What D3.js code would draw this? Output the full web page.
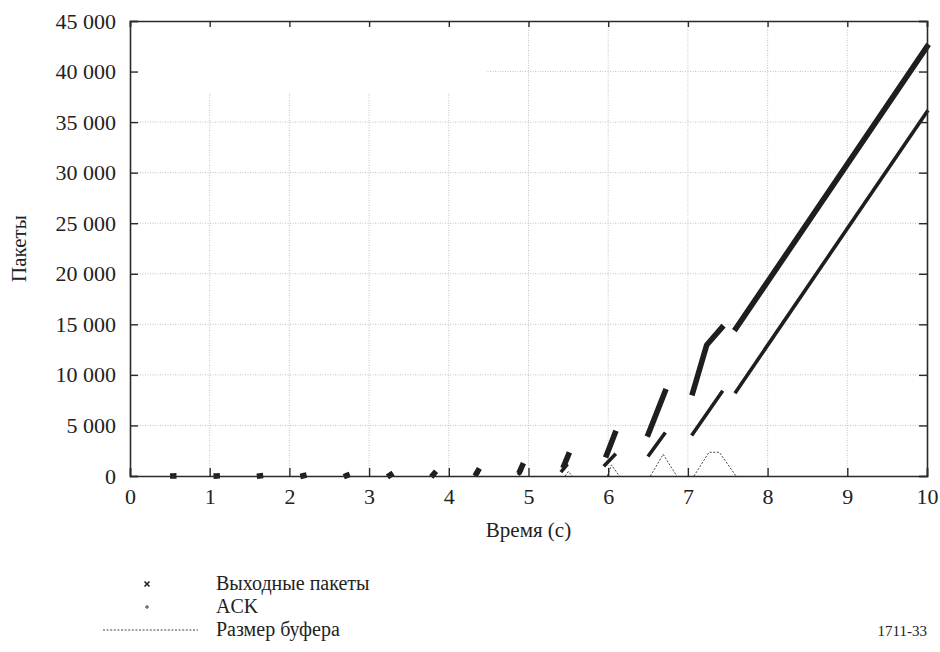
<!DOCTYPE html>
<html>
<head>
<meta charset="utf-8">
<script src="https://cdn.jsdelivr.net/npm/d3@7/dist/d3.min.js"></script>
<style>
  html, body { margin: 0; padding: 0; background: #fff; }
  svg { display: block; }
  svg text { font-family: "Liberation Serif", "Tinos", "Times New Roman", "DejaVu Serif", serif !important; fill: #222; }
</style>
</head>
<body>
<svg id="chart" width="940" height="652"></svg>
<script>
// Time axis (s) and packet axis
const xTicks = [0, 1, 2, 3, 4, 5, 6, 7, 8, 9, 10];
const yTicks = [0, 5000, 10000, 15000, 20000, 25000, 30000, 35000, 40000, 45000];

// Sent packets: each run is one burst of the sender, [time, cumulative packet number]
const outputRuns = [
  [[0.538, 2], [0.548, 4]],
  [[1.083, 4], [1.093, 8]],
  [[1.626, 8], [1.636, 16]],
  [[2.171, 16], [2.181, 32]],
  [[2.715, 32], [2.725, 64]],
  [[3.259, 64], [3.271, 128]],
  [[3.803, 128], [3.817, 256]],
  [[4.347, 256], [4.366, 512]],
  [[4.893, 512], [4.922, 1024]],
  [[5.445, 1030], [5.50, 2077]],
  [[5.98, 2077], [6.085, 4220]],
  [[6.503, 4154], [6.713, 8338]],
  [[7.06, 8240], [7.236, 12956], [7.424, 14670]],
  [[7.603, 14600], [10, 42460]]
];

// Acknowledgements received, same layout
const ackRuns = [
  [[0.536, 1], [0.544, 2]],
  [[1.081, 2], [1.089, 4]],
  [[1.624, 4], [1.632, 8]],
  [[2.169, 8], [2.177, 16]],
  [[2.713, 16], [2.721, 32]],
  [[3.257, 32], [3.265, 64]],
  [[3.801, 64], [3.811, 128]],
  [[4.344, 128], [4.358, 256]],
  [[4.885, 256], [4.905, 512]],
  [[5.42, 512], [5.475, 1030]],
  [[5.96, 1088], [6.08, 2077]],
  [[6.512, 2077], [6.704, 4154]],
  [[7.06, 4154], [7.424, 8278]],
  [[7.603, 8338], [10, 36030]]
];

// Router queue occupancy, [time, packets]
const bufferRuns = [
  [[5.46, 0], [5.50, 450], [5.55, 0]],
  [[5.99, 0], [6.04, 1100], [6.14, 0]],
  [[6.53, 0], [6.69, 2150], [6.86, 0]],
  [[7.076, 0], [7.265, 2350], [7.394, 2350], [7.603, 0]]
];

const legendLabels = ["Выходные пакеты", "ACK", "Размер буфера"];

const svg = d3.select("#chart");
const margin = { left: 130, right: 13, top: 21, bottom: 176 };
const W = 940, H = 652;
const x = d3.scaleLinear().domain([0, 10]).range([margin.left, W - margin.right]);
const y = d3.scaleLinear().domain([0, 45000]).range([H - margin.bottom, margin.top]);

const fmt = d3.formatLocale({ decimal: ".", thousands: "\u00a0", grouping: [3], currency: ["", ""] }).format(",");

// grid
const grid = svg.append("g");
grid.selectAll("line.gx").data(xTicks.slice(1, -1)).join("line")
  .attr("x1", d => x(d)).attr("x2", d => x(d))
  .attr("y1", y(0)).attr("y2", y(45000))
  .attr("stroke", "#b4b4b4").attr("stroke-width", 0.8).attr("stroke-dasharray", "1,1.5");
grid.selectAll("line.gy").data(yTicks.slice(1, -1)).join("line")
  .attr("x1", x(0)).attr("x2", x(10))
  .attr("y1", d => y(d)).attr("y2", d => y(d))
  .attr("stroke", "#b4b4b4").attr("stroke-width", 0.8).attr("stroke-dasharray", "1,1.5");

// blank panel over the upper-left grid
svg.append("rect")
  .attr("x", x(0) + 2).attr("y", y(45000) + 2)
  .attr("width", 354).attr("height", 70)
  .attr("fill", "#fff");

// data
const line = d3.line().x(d => x(d[0])).y(d => y(d[1]));

svg.append("g").selectAll("path").data(bufferRuns).join("path")
  .attr("d", line).attr("fill", "none")
  .attr("stroke", "#444").attr("stroke-width", 1)
  .attr("stroke-dasharray", "2,1.6");

svg.append("g").selectAll("path").data(ackRuns).join("path")
  .attr("d", line).attr("fill", "none")
  .attr("stroke", "#1e1e1e").attr("stroke-width", 3.6)
  .attr("stroke-linecap", "square").attr("stroke-linejoin", "round");

svg.append("g").selectAll("path").data(outputRuns).join("path")
  .attr("d", line).attr("fill", "none")
  .attr("stroke", "#1e1e1e").attr("stroke-width", 5.6)
  .attr("stroke-linecap", "square").attr("stroke-linejoin", "round");

// axes with inward ticks on all four sides
const axStyle = g => {
  g.attr("font-family", null);
  g.select(".domain").attr("stroke", "#2a2a2a").attr("stroke-width", 1.6);
  g.selectAll(".tick line").attr("stroke", "#2a2a2a").attr("stroke-width", 1.4);
  g.selectAll("text").attr("font-size", 22).attr("fill", "#222");
};

svg.append("g").attr("transform", `translate(0,${y(0)})`)
  .call(d3.axisBottom(x).tickValues(xTicks).tickSize(-8).tickPadding(12).tickFormat(d3.format("d")))
  .call(axStyle);
svg.append("g").attr("transform", `translate(${x(0)},0)`)
  .call(d3.axisLeft(y).tickValues(yTicks).tickSize(-8).tickPadding(14).tickFormat(fmt))
  .call(axStyle);
svg.append("g").attr("transform", `translate(0,${y(45000)})`)
  .call(d3.axisTop(x).tickValues(xTicks).tickSize(-6).tickFormat(""))
  .call(axStyle);
svg.append("g").attr("transform", `translate(${x(10)},0)`)
  .call(d3.axisRight(y).tickValues(yTicks).tickSize(-8).tickFormat(""))
  .call(axStyle);

// axis titles
svg.append("text")
  .attr("x", (x(0) + x(10)) / 2).attr("y", 537)
  .attr("text-anchor", "middle").attr("font-size", 21)
  .text("Время (с)");
svg.append("text")
  .attr("transform", `translate(26,${(y(0) + y(45000)) / 2}) rotate(-90)`)
  .attr("text-anchor", "middle").attr("font-size", 21)
  .text("Пакеты");

// legend
const lg = svg.append("g");
const rowY = [584, 607, 630];
lg.append("path")
  .attr("d", d3.symbol(d3.symbolX, 18)())
  .attr("transform", `translate(147,${rowY[0]})`)
  .attr("stroke", "#222").attr("stroke-width", 1.6).attr("fill", "none");
lg.append("path")
  .attr("d", d3.symbol(d3.symbolCross, 8)())
  .attr("transform", `translate(147,${rowY[1]})`)
  .attr("fill", "#666");
lg.append("line")
  .attr("x1", 103).attr("x2", 198).attr("y1", rowY[2]).attr("y2", rowY[2])
  .attr("stroke", "#444").attr("stroke-width", 1).attr("stroke-dasharray", "2,1.6");
lg.selectAll("text").data(legendLabels).join("text")
  .attr("x", 216).attr("y", (d, i) => rowY[i] + 6)
  .attr("font-size", 20).text(d => d);

svg.append("text")
  .attr("x", 927).attr("y", 636).attr("text-anchor", "end")
  .attr("font-size", 15).text("1711-33");
</script>
</body>
</html>
